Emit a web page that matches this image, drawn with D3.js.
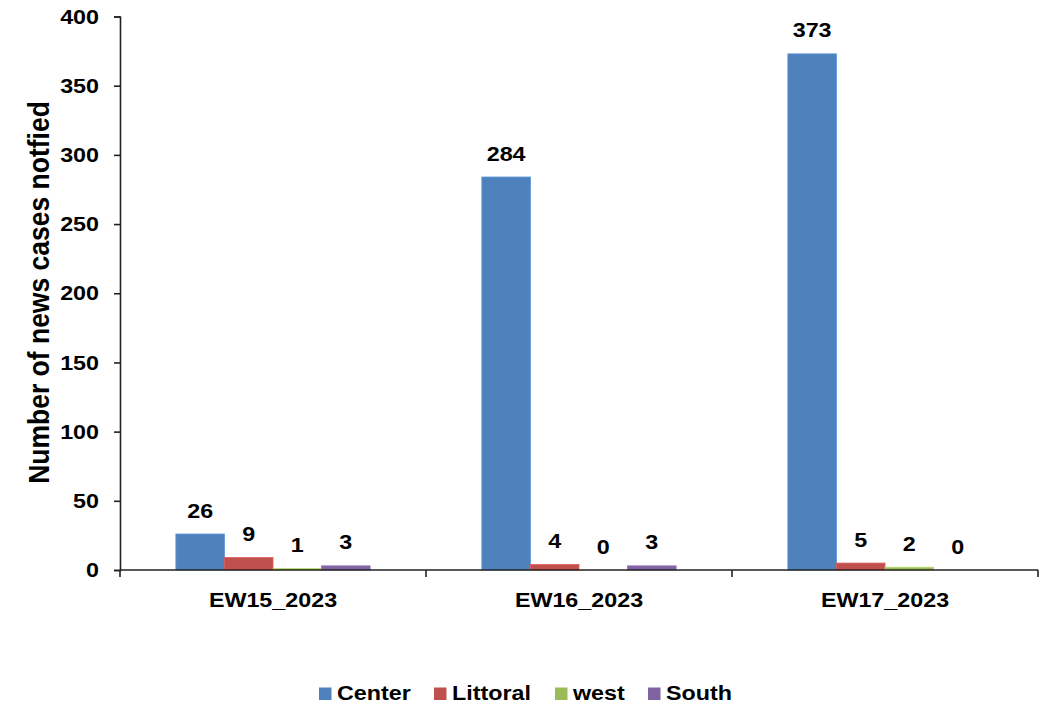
<!DOCTYPE html>
<html><head><meta charset="utf-8">
<script src="https://cdn.jsdelivr.net/npm/d3@7"></script>
<style>
html,body{margin:0;padding:0;background:#fff;}
text{font-family:"Liberation Sans",Arial,sans-serif;font-weight:bold;fill:#000;}
</style></head>
<body><svg id="c" width="1048" height="704"></svg>
<script>
const categories = ["EW15_2023","EW16_2023","EW17_2023"];
const seriesNames = ["Center","Littoral","west","South"];
const center = [26,284,373];
const littoral = [9,4,5];
const west = [1,0,2];
const south = [3,3,0];
const yTicks = [0,50,100,150,200,250,300,350,400];
const colors = ["#4F81BD","#C0504D","#9BBB59","#8064A2"];
const seriesValues = [center, littoral, west, south];

(function(){
const svg = d3.select("#c");
const mLeft = 120, mRight = 1038, mTop = 16.5, mBottom = 570;
const SX = 1.11; // horizontal text stretch seen in the reference

function label(g, x, y, txt, size, anchor){
  return g.append("text")
    .attr("transform",`translate(${x},${y}) scale(${SX},1)`)
    .attr("text-anchor",anchor||"start").attr("font-size",size)
    .text(txt);
}

const x = d3.scaleBand().domain(categories).range([mLeft,mRight]).padding(0);
const xs = d3.scaleBand().domain(seriesNames).range([0,x.bandwidth()]).paddingInner(0).paddingOuter(1.15);
const y = d3.scaleLinear().domain([0,400]).range([mBottom,mTop]);

// bars
categories.forEach((cat,ci)=>{
  seriesNames.forEach((s,si)=>{
    const v = seriesValues[si][ci];
    const bx = x(cat)+xs(s);
    svg.append("rect")
      .attr("x",bx).attr("y",y(v))
      .attr("width",xs.bandwidth()).attr("height",mBottom-y(v))
      .attr("fill",colors[si])
      .attr("stroke",d3.color(colors[si]).brighter(0.4)).attr("stroke-width",0.8);
    label(svg, bx+xs.bandwidth()/2, y(v)-16.5, v, 21, "middle");
  });
});

// y axis
const yAxis = d3.axisLeft(y).tickValues(yTicks).tickSize(6).tickPadding(15);
const gy = svg.append("g").attr("transform",`translate(${mLeft},0)`).call(yAxis);
gy.select(".domain").attr("stroke","#222").attr("stroke-width",1.6);
gy.selectAll(".tick line").attr("stroke","#222").attr("stroke-width",1.6);
gy.selectAll("text").attr("font-size",21).attr("font-family","Liberation Sans, Arial, sans-serif")
  .attr("font-weight","bold").attr("fill","#000")
  .attr("x",-21/SX).attr("transform",`scale(${SX},1)`);

// x axis
const xAxis = d3.axisBottom(x).tickSize(0).tickPadding(20);
const gx = svg.append("g").attr("transform",`translate(0,${mBottom})`).call(xAxis);
gx.select(".domain").attr("stroke","#222").attr("stroke-width",1.6).attr("d",`M${mLeft},0H${mRight}`);
gx.selectAll("text").attr("font-size",21).attr("font-family","Liberation Sans, Arial, sans-serif")
  .attr("font-weight","bold").attr("fill","#000").attr("dy",null).attr("y",37)
  .attr("transform",`scale(${SX},1)`);
const edges = categories.map(c=>x(c)).concat([mRight]);
gx.selectAll(".edge").data(edges).enter().append("line")
  .attr("x1",d=>d).attr("x2",d=>d).attr("y1",0).attr("y2",7)
  .attr("stroke","#222").attr("stroke-width",1.6);

// y title
svg.append("text")
  .attr("transform",`translate(49,292.5) scale(${SX},1) rotate(-90)`)
  .attr("text-anchor","middle").attr("font-size",26.5)
  .text("Number of news cases notfied");

// legend
const legX = [319,434,555,648];
const lg = svg.append("g");
seriesNames.forEach((s,i)=>{
  lg.append("rect").attr("x",legX[i]).attr("y",687.5).attr("width",12.5).attr("height",12.5).attr("fill",colors[i]);
  label(lg, legX[i]+18, 700, s, 21, "start");
});
})();
</script></body></html>
